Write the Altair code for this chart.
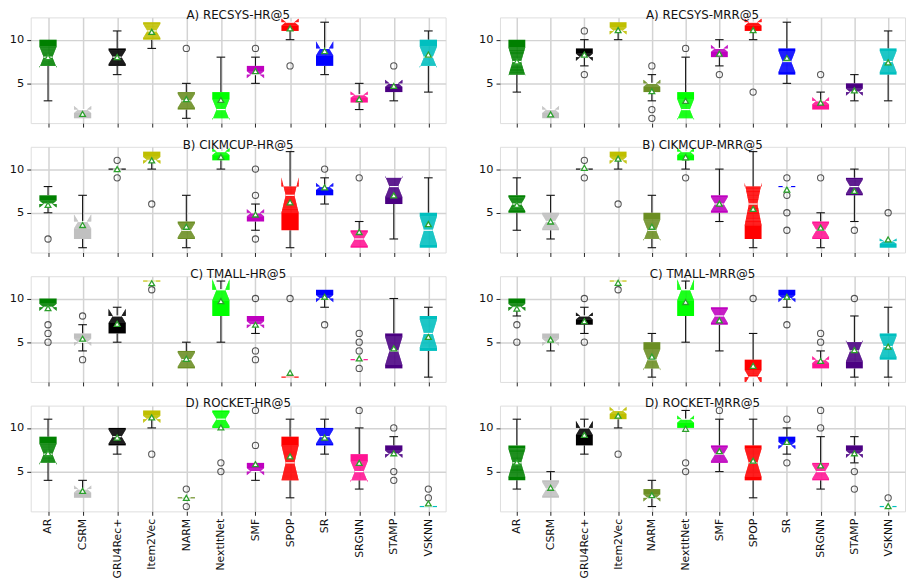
import math
import altair as alt
import pandas as pd

METHODS = ["AR", "CSRM", "GRU4Rec+", "Item2Vec", "NARM", "NextItNet", "SMF",
           "SPOP", "SR", "SRGNN", "STAMP", "VSKNN"]
COLORS = ["#008000", "#c0c0c0", "#000000", "#bfbf00", "#6b8e23", "#00ff00",
          "#bf00bf", "#ff0000", "#0000ff", "#ff1493", "#4b0082", "#00bfbf"]
N_RUNS = 15  # sample size used for the notch (median +/- 1.57*IQR/sqrt(n))

recsys_hr = dict(
    title="A) RECSYS-HR@5",
    q1=[7, 1, 7, 10, 2, 1, 6, 11, 7, 2.8, 4, 7],
    med=[8, 2, 8, 11, 3, 2, 6, 12, 9, 3.7, 5, 8],
    q3=[10, 2, 9, 12, 4, 4, 7, 12, 9, 3.7, 5, 10],
    lo=[3, 1, 6, 9, 1, 1, 5, 10, 6, 2, 3, 4],
    hi=[10, 2, 11, 12, 5, 8, 8, 12, 12, 5, 5, 11],
    mean=[8.0, 1.5, 8.0, 10.9, 3.2, 3.1, 6.4, 11.3, 8.7, 3.2, 4.7, 8.3],
    out=[[], [], [], [], [9], [], [9], [7], [], [], [7], []],
)
recsys_mrr = dict(
    title="A) RECSYS-MRR@5",
    q1=[6, 1, 8, 11, 4, 1, 8, 11, 6, 2, 4, 6],
    med=[7.5, 2, 8, 11, 5, 2, 9, 12, 7.5, 3, 4, 7.5],
    q3=[10, 2, 9, 12, 5, 4, 9, 12, 9, 3, 5, 9],
    lo=[4, 1, 7, 10, 3, 1, 7, 10, 5, 2, 3, 3],
    hi=[10, 2, 10, 12, 6, 8, 10, 12, 12, 4, 6, 11],
    mean=[7.5, 1.45, 8.3, 11.1, 4.1, 3.0, 8.4, 11.1, 7.9, 2.8, 4.2, 7.4],
    out=[[], [], [11, 6], [], [7, 2, 1], [9], [6], [4], [], [6], [], []],
)
cikm_hr = dict(
    title="B) CIKMCUP-HR@5",
    q1=[6, 2, 10, 11, 2, 11, 4, 3, 7, 1, 6, 1],
    med=[6, 4, 10, 11, 3, 12, 5, 7, 8, 2, 8, 3],
    q3=[7, 4, 10, 12, 4, 12, 5, 8, 8, 3, 9, 5],
    lo=[5, 1, 10, 10, 1, 10, 3, 1, 6, 1, 2, 1],
    hi=[8, 7, 10, 12, 7, 12, 6, 12, 9, 4, 9, 9],
    mean=[5.9, 3.6, 10.0, 11.0, 3.4, 11.4, 4.8, 6.2, 7.9, 2.8, 7.0, 3.7],
    out=[[2], [], [11, 9], [6], [], [], [10, 7, 2], [], [10], [9], [], []],
)
cikm_mrr = dict(
    title="B) CIKMCUP-MRR@5",
    q1=[5, 3, 10, 11, 2, 11, 5, 2, 8, 2, 7, 1],
    med=[6, 4, 10, 11, 3, 12, 6, 6, 8, 3, 8, 1.75],
    q3=[7, 5, 10, 12, 5, 12, 7, 8, 8, 4, 9, 1.75],
    lo=[3, 2, 10, 10, 1, 10, 4, 1, 8, 1, 4, 1],
    hi=[9, 7, 10, 12, 7, 12, 10, 12, 8, 5, 10, 1.75],
    mean=[5.9, 4.0, 10.15, 11.2, 3.4, 11.35, 6.05, 5.45, 7.65, 3.3, 7.5, 1.95],
    out=[[], [], [11, 9], [6], [], [9], [], [], [9, 7, 5, 3], [9], [3], [5]],
)
tmall_hr = dict(
    title="C) TMALL-HR@5",
    q1=[9, 5, 6, 12, 2, 8, 7, 1, 10, 3, 2, 4],
    med=[9, 5, 8, 12, 3, 11, 7, 1, 10, 3, 4, 6],
    q3=[10, 6, 8, 12, 4, 11, 8, 1, 11, 3, 6, 8],
    lo=[9, 4, 5, 12, 2, 5, 6, 1, 9, 3, 2, 1],
    hi=[10, 7, 9, 12, 5, 12, 8, 1, 11, 3, 10, 9],
    mean=[8.9, 5.4, 7.1, 11.75, 3.1, 9.7, 7.0, 1.5, 10.2, 3.15, 4.3, 5.6],
    out=[[7, 6, 5], [8, 3], [], [11], [], [], [10, 4, 3], [10], [7],
         [6, 5, 4, 2], [], []],
)
tmall_mrr = dict(
    title="C) TMALL-MRR@5",
    q1=[9, 5, 7, 12, 2, 8, 7, 1, 10, 2, 2, 3],
    med=[9, 5, 8, 12, 3, 11, 8, 1, 10, 3, 4, 4.5],
    q3=[10, 6, 8, 12, 5, 11, 9, 3, 11, 3, 5, 6],
    lo=[8, 4, 6, 12, 1, 5, 4, 1, 9, 2, 1, 1],
    hi=[10, 6, 9, 12, 6, 12, 9, 6, 11, 4, 8, 9],
    mean=[8.85, 5.3, 7.4, 11.8, 3.35, 9.6, 7.5, 2.3, 10.2, 2.85, 4.1, 4.5],
    out=[[7, 5], [], [10, 5], [11], [], [], [], [10], [7], [6, 5], [10], []],
)
rocket_hr = dict(
    title="D) ROCKET-HR@5",
    q1=[6, 2, 8, 11, 2, 10, 5, 4, 8, 4, 7, 1],
    med=[7, 3, 9, 11, 2, 11, 5, 6, 9, 5, 7, 1],
    q3=[9, 3, 10, 12, 2, 12, 6, 9, 10, 7, 8, 1],
    lo=[4, 2, 7, 10, 2, 10, 4, 2, 7, 3, 7, 1],
    hi=[11, 4, 10, 12, 2, 12, 6, 11, 11, 10, 9, 1],
    mean=[7.1, 2.8, 8.9, 11.2, 2.0, 10.05, 5.85, 6.75, 8.9, 6.0, 7.1, 1.35],
    out=[[], [], [], [7], [3, 1], [6, 5], [12, 8], [], [], [12], [10, 5, 4], [3, 2]],
)
rocket_mrr = dict(
    title="D) ROCKET-MRR@5",
    q1=[4, 2, 8, 11, 2, 10, 6, 4, 8, 4, 7, 1],
    med=[6, 3, 10, 12, 2, 11, 7, 6, 8, 5, 7, 1],
    q3=[8, 4, 10, 12, 3, 11, 8, 8, 9, 6, 8, 1],
    lo=[3, 2, 7, 10, 1, 10, 5, 2, 7, 3, 6, 1],
    hi=[11, 5, 11, 12, 4, 12, 11, 11, 10, 9, 9, 1],
    mean=[6.05, 3.15, 9.2, 11.4, 2.3, 9.9, 7.35, 6.25, 8.4, 5.7, 7.1, 1.05],
    out=[[], [], [], [7], [], [6, 5], [12], [], [11, 6], [12, 10], [5, 3], [2]],
)

PANEL_ROWS = [(recsys_hr, recsys_mrr), (cikm_hr, cikm_mrr),
              (tmall_hr, tmall_mrr), (rocket_hr, rocket_mrr)]

BOX_HALF = 0.25
NOTCH_HALF = 0.125
CAP_HALF = 0.125
Y_LO, Y_HI = 0.45, 12.55
SLICE = 0.04     # thickness of the slices that build the tapered notch
EPS = 0.012      # small overlap so that slices leave no seams
FONT = "DejaVu Sans"
GRID = "#d3d3d3"


def box_rects(x0, q1, med, q3, h, method):
    """Notched box (matplotlib style, including the 'ears' that appear when the
    notch reaches past a quartile) as a set of rects in data units."""
    nlo, nhi = med - h, med + h
    span = BOX_HALF - NOTCH_HALF

    def w(y):
        if y <= nlo or y >= nhi:
            return BOX_HALF
        t = (med - y) / h if y < med else (y - med) / h
        return NOTCH_HALF + span * t

    rects = []

    def add(xa, xb, ya, yb):
        rects.append(dict(x=xa, x2=xb, y=ya, y2=yb, method=method))

    def sliced(a, b, fn):
        a, b = max(a, Y_LO), min(b, Y_HI)
        if b <= a:
            return
        n = max(1, int(math.ceil((b - a) / SLICE)))
        step = (b - a) / n
        for j in range(n):
            ya, yb = a + j * step, a + (j + 1) * step
            fn(ya - EPS, yb + EPS, w((ya + yb) / 2))

    # full-width parts of the box
    top_full_lo = max(min(nlo, q3), q1)
    if top_full_lo > q1:
        add(x0 - BOX_HALF, x0 + BOX_HALF, q1, top_full_lo + EPS)
    bot_full_hi = min(max(nhi, q1), q3)
    if bot_full_hi < q3:
        add(x0 - BOX_HALF, x0 + BOX_HALF, bot_full_hi - EPS, q3)
    # tapered notch inside the box
    sliced(max(q1, nlo), min(q3, nhi),
           lambda ya, yb, ww: add(x0 - ww, x0 + ww, max(ya, q1), min(yb, q3)))

    # ears beyond the quartiles
    def ear(ya, yb, ww):
        add(x0 + ww, x0 + BOX_HALF, ya, yb)
        add(x0 - BOX_HALF, x0 - ww, ya, yb)

    if nhi > q3:
        sliced(q3, nhi, lambda ya, yb, ww: ear(max(ya, q3), yb, ww))
    if nlo < q1:
        sliced(nlo, q1, lambda ya, yb, ww: ear(ya, min(yb, q1), ww))
    return rects


def build_tables(d):
    rects, whisk, caps, meds, degen, outs, means = [], [], [], [], [], [], []
    for i, m in enumerate(METHODS):
        x0 = i + 1
        q1, med, q3 = d["q1"][i], d["med"][i], d["q3"][i]
        lo, hi = d["lo"][i], d["hi"][i]
        if q3 > q1:
            h = 1.57 * (q3 - q1) / math.sqrt(N_RUNS)
            rects += box_rects(x0, q1, med, q3, h, m)
        else:
            degen.append(dict(x=x0 - BOX_HALF, x2=x0 + BOX_HALF, y=med, method=m))
        meds.append(dict(x=x0 - NOTCH_HALF, x2=x0 + NOTCH_HALF, y=med))
        if lo < q1:
            whisk.append(dict(x=x0, y=lo, y2=q1))
            caps.append(dict(x=x0 - CAP_HALF, x2=x0 + CAP_HALF, y=lo))
        if hi > q3:
            whisk.append(dict(x=x0, y=q3, y2=hi))
            caps.append(dict(x=x0 - CAP_HALF, x2=x0 + CAP_HALF, y=hi))
        for v in d["out"][i]:
            outs.append(dict(x=x0, y=v))
        means.append(dict(x=x0, y=d["mean"][i]))
    return rects, whisk, caps, meds, degen, outs, means


def make_panel(d, bottom, width):
    rects, whisk, caps, meds, degen, outs, means = build_tables(d)
    xscale = alt.Scale(domain=[0.5, 12.5], nice=False, zero=False)
    yscale = alt.Scale(domain=[Y_LO, Y_HI], nice=False, zero=False)
    label_expr = "[" + ",".join("'%s'" % m for m in METHODS) + "][datum.value - 1]"
    xaxis = alt.Axis(values=list(range(1, 13)), grid=True, gridColor=GRID, gridWidth=1.5,
                     domain=False, ticks=True, tickSize=4, tickColor="#222",
                     labels=bottom, labelExpr=label_expr, labelAngle=270,
                     labelAlign="right", labelBaseline="middle", labelPadding=3,
                     labelFont=FONT, labelFontSize=11, labelColor="#111", title=None)
    yaxis = alt.Axis(values=[5, 10], grid=True, gridColor=GRID, gridWidth=1.5,
                     domain=False, tickSize=4, tickColor="#222", labelFont=FONT,
                     labelFontSize=11.5, labelColor="#111", labelPadding=3,
                     minExtent=22, maxExtent=22, title=None)

    def X(f):
        return alt.X(f + ":Q", scale=xscale, axis=xaxis)

    def Y(f):
        return alt.Y(f + ":Q", scale=yscale, axis=yaxis)

    color = alt.Color("method:N", scale=alt.Scale(domain=METHODS, range=COLORS), legend=None)
    layers = []
    if whisk:
        layers.append(alt.Chart(pd.DataFrame(whisk)).mark_rule(color="#111", strokeWidth=1.1)
                      .encode(x=X("x"), y=Y("y"), y2="y2:Q"))
    if caps:
        layers.append(alt.Chart(pd.DataFrame(caps)).mark_rule(color="#111", strokeWidth=1.1)
                      .encode(x=X("x"), x2="x2:Q", y=Y("y")))
    if rects:
        layers.append(alt.Chart(pd.DataFrame(rects)).mark_rect(strokeWidth=0)
                      .encode(x=X("x"), x2="x2:Q", y=Y("y"), y2="y2:Q", color=color))
    if degen:
        layers.append(alt.Chart(pd.DataFrame(degen)).mark_rule(strokeWidth=1.2)
                      .encode(x=X("x"), x2="x2:Q", y=Y("y"), color=color))
    layers.append(alt.Chart(pd.DataFrame(meds)).mark_rule(color="white", strokeWidth=1.2)
                  .encode(x=X("x"), x2="x2:Q", y=Y("y")))
    if outs:
        layers.append(alt.Chart(pd.DataFrame(outs))
                      .mark_point(shape="circle", filled=False, color="#111", size=40, strokeWidth=1.1)
                      .encode(x=X("x"), y=Y("y")))
    layers.append(alt.Chart(pd.DataFrame(means))
                  .mark_point(shape="triangle-up", filled=True, fill="white", stroke="#2ca02c",
                              size=34, strokeWidth=1.3, opacity=1)
                  .encode(x=X("x"), y=Y("y")))
    title = alt.TitleParams(d["title"], fontSize=12, fontWeight="normal", font=FONT,
                            color="#111", offset=-5, anchor="middle")
    return alt.layer(*layers).properties(width=width, height=107, title=title)


rows = []
for r, (left, right) in enumerate(PANEL_ROWS):
    bottom = r == len(PANEL_ROWS) - 1
    rows.append(alt.hconcat(make_panel(left, bottom, 420), make_panel(right, bottom, 410),
                            spacing=31))

chart = (alt.vconcat(*rows, spacing=10)
         .properties(padding={"left": 0, "top": -3, "right": 0, "bottom": 0})
         .configure_view(stroke="#222", strokeWidth=1)
         .configure(background="white"))

chart.save("out.html", embed_options={"renderer": "svg", "actions": False})
